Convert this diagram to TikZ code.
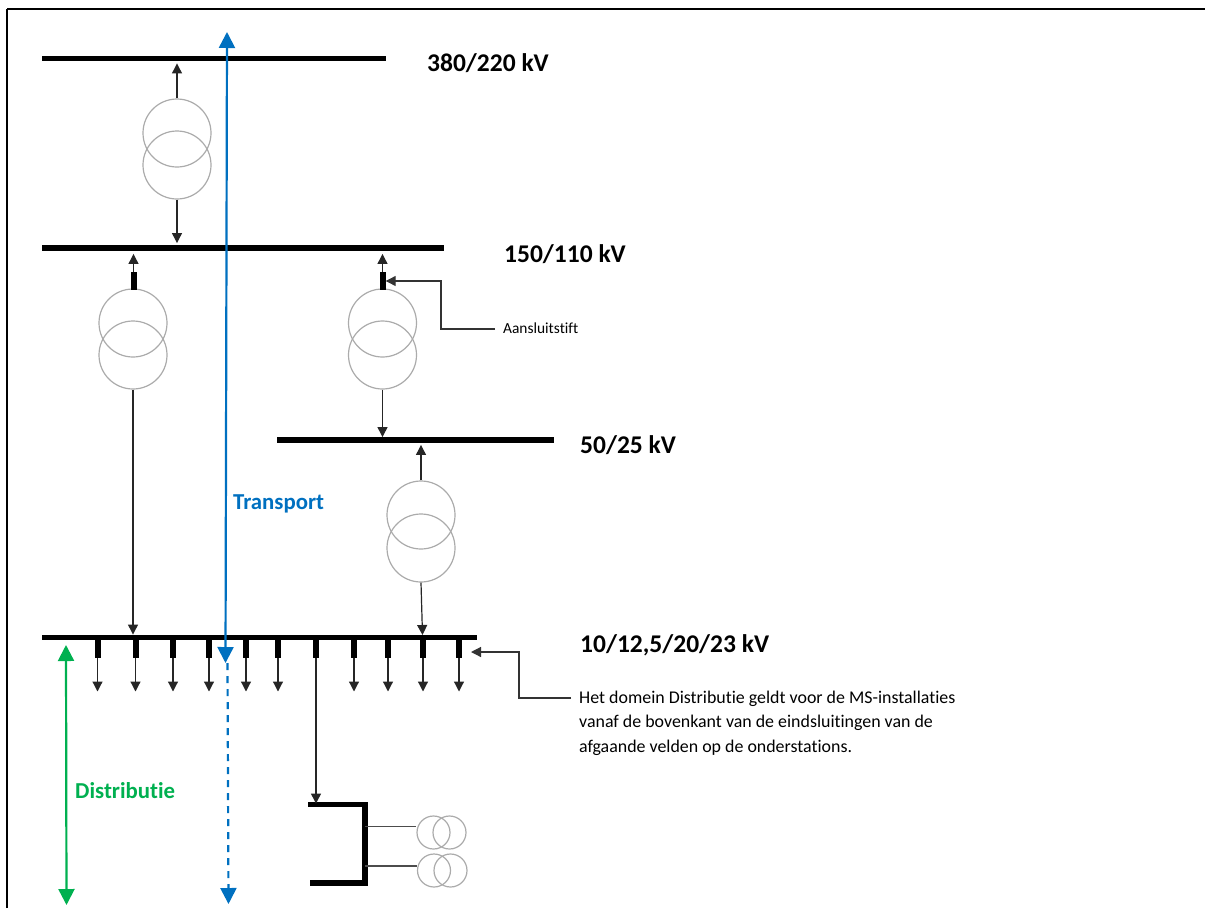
\documentclass[tikz,border=0pt]{standalone}
\usepackage{fontspec}
\setmainfont[Ligatures=NoCommon]{Carlito}
\usetikzlibrary{arrows.meta}
\definecolor{tblue}{HTML}{0070C0}
\definecolor{dgreen}{HTML}{00B050}
\definecolor{xgray}{HTML}{ABABAB}
\tikzset{
  busbar/.style={fill=black,draw=none,rectangle,inner sep=0pt,minimum height=5.5pt},
  pinbar/.style={fill=black,draw=none,rectangle,inner sep=0pt,minimum width=6pt,minimum height=18pt},
  xfmr/.style={circle,draw=xgray,line width=1.2pt,inner sep=0pt,minimum size=68pt},
  smallx/.style={circle,draw=xgray,line width=1.2pt,inner sep=0pt,minimum size=33pt},
  feed/.style={draw=black!85,line width=1.2pt,-{Triangle[length=10pt,width=10pt]}},
  plainln/.style={draw=black!70,line width=1.2pt},
  level/.style={font=\fontsize{25.5}{28}\bfseries\selectfont,anchor=west,inner sep=0pt,text=black},
  note/.style={font=\fontsize{17.9}{24.2}\selectfont,anchor=north west,align=left,inner sep=0pt},
  bigblue/.style={draw=tblue,line width=2.2pt},
  biggreen/.style={draw=dgreen,line width=2.2pt,{Triangle[length=16pt,width=16pt]}-{Triangle[length=16pt,width=16pt]}},
  frameln/.style={draw=black,line width=2pt},
}
\begin{document}
\begin{tikzpicture}[x=1pt,y=-1pt]
\useasboundingbox (0,0) rectangle (1205,908);
% frame
\coordinate (fbl) at (7,908);
\coordinate (ftl) at (7,9);
\coordinate (ftm) at (963,9);
\coordinate (ftr) at (1205,9);
\draw[frameln] (fbl) -- (ftl);
\draw[black,line width=1.2pt] (ftl) -- (ftm);
\draw[frameln] (ftm) -- (ftr);
% bus bars
\node[busbar,minimum width=344pt] (bus1) at (214,58.5) {};
\node[busbar,minimum width=402pt] (bus2) at (243,248) {};
\node[busbar,minimum width=277pt] (bus3) at (415.5,440) {};
\node[busbar,minimum width=435pt] (bus4) at (259.5,637.5) {};
% level labels
\node[level] (l1) at (427,63.5) {380/220 kV};
\node[level] (l2) at (504,254.5) {150/110 kV};
\node[level] (l3) at (580,445.5) {50/25 kV};
\node[level] (l4) at (580,645) {10/12,5/20/23 kV};
% transformers
\node[xfmr] (t1a) at (177,133) {};
\node[xfmr] (t1b) at (177,165) {};
\node[xfmr] (t2a) at (133,323) {};
\node[xfmr] (t2b) at (133,355) {};
\node[xfmr] (t3a) at (382.5,323) {};
\node[xfmr] (t3b) at (382.5,355) {};
\node[xfmr] (t4a) at (421,515) {};
\node[xfmr] (t4b) at (421,548) {};
% pins on transformers
\node[pinbar] (p2) at (133.5,281) {};
\node[pinbar] (p3) at (382.5,281) {};
% transformer connections
\draw[feed] (t1a.north) -- ([yshift=-2pt]t1a.north |- bus1.south);
\draw[feed] (t1b.south) -- ([yshift=2pt]t1b.south |- bus2.north);
\draw[feed] (p2.north) -- ([yshift=-3pt]p2.north |- bus2.south);
\draw[feed] (p3.north) -- ([yshift=-3pt]p3.north |- bus2.south);
\draw[feed] (t2b.south) -- (t2b.south |- bus4.north);
\draw[feed] (t3b.south) -- (t3b.south |- bus3.north);
\draw[feed] (t4a.north) -- ([yshift=-2pt]t4a.north |- bus3.south);
\coordinate (t4end) at (422.5,635);
\draw[feed] (t4b.south) -- (t4end);
% outgoing feeders
\foreach \n/\x in {a/97.5,b/135.5,c/173,d/209,e/246,f/278,h/354,i/388,j/423,k/459}{
  \node[pinbar] (q\n) at (\x,649) {};
  \coordinate (e\n) at (\x,691.5);
  \draw[feed] (q\n.south) -- (e\n);
}
% branch to the small station
\node[pinbar] (qg) at (316,649) {};
\node[busbar,minimum width=57pt,anchor=west] (brt) at (308,804.5) {};
\node[busbar,minimum width=57pt,anchor=west] (brb) at (310,883) {};
\node[fill=black,inner sep=0pt,minimum width=5.5pt,minimum height=84pt] (brv) at (365,844) {};
\draw[feed] (qg.south) -- ([yshift=-2pt]qg.south |- brt.north);
\node[smallx] (s1a) at (433.5,832.5) {};
\node[smallx] (s1b) at (449.5,832.5) {};
\node[smallx] (s2a) at (434,870.5) {};
\node[smallx] (s2b) at (450.5,870.5) {};
\coordinate (c1) at (365,826.5);
\coordinate (c2) at (365,866);
\draw[plainln] (c1) -- (c1 -| s1a.west);
\draw[plainln] (c2) -- (c2 -| s2a.west);
% big arrows
\coordinate (btop) at (227,32);
\coordinate (bmid) at (225.5,663);
\coordinate (bds) at (227.5,663);
\coordinate (bbot) at (228.5,904);
\draw[bigblue,{Triangle[length=16pt,width=16pt]}-{Triangle[length=16pt,width=16pt]}] (btop) -- (bmid);
\draw[bigblue,dash pattern=on 7pt off 6pt,-{Triangle[length=16pt,width=16pt]}] (bds) -- (bbot);
\coordinate (gtop) at (66,645);
\coordinate (gbot) at (66.5,905);
\draw[biggreen] (gtop) -- (gbot);
\node[font=\fontsize{22.8}{25}\bfseries\selectfont,text=tblue,anchor=west,inner sep=0pt] (tr) at (233,503.5) {Transport};
\node[font=\fontsize{22.8}{25}\bfseries\selectfont,text=dgreen,anchor=west,inner sep=0pt] (di) at (75,791) {Distributie};
% callouts
\node[font=\fontsize{15.4}{17}\selectfont,anchor=west,inner sep=0pt] (as) at (503,328) {Aansluitstift};
\coordinate (k1) at (441,329);
\coordinate (k1s) at (495,329);
\draw[plainln,draw=black!80,-{Triangle[length=10pt,width=10pt]}] (k1s) -- (k1) |- (p3.east);
\node[note] (nt) at (579,691) {Het domein Distributie geldt voor de MS-installaties\\vanaf de bovenkant van de eindsluitingen van de\\afgaande velden op de onderstations.};
\coordinate (k2) at (519,698);
\coordinate (k2s) at (571,698);
\coordinate (k2t) at (471,652);
\draw[plainln,draw=black!80,-{Triangle[length=10pt,width=10pt]}] (k2s) -- (k2) |- (k2t);
\end{tikzpicture}
\end{document}
